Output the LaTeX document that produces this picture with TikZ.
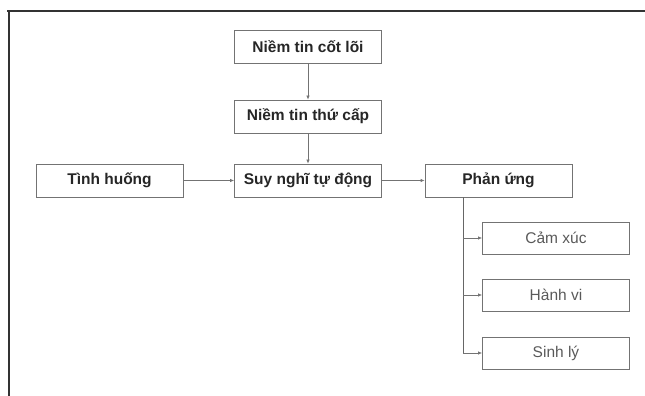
\documentclass[tikz,border=0pt]{standalone}
\usepackage{fontspec}
\setmainfont{Liberation Sans}
\usetikzlibrary{arrows.meta}
\begin{document}
\begin{tikzpicture}[x=1pt,y=1pt,
  box/.style={draw=black!55, line width=0.7pt, minimum width=147pt, minimum height=33pt, inner sep=0pt, font=\bfseries\fontsize{15.5}{17}\selectfont, text=black!85},
  subbox/.style={box, font=\fontsize{15.5}{17}\selectfont, text=black!65, minimum height=32pt},
  conn/.style={draw=black!55, line width=0.7pt, -{Latex[length=4pt,width=3.5pt]}},
  plain/.style={draw=black!60, line width=0.9pt},
  frame/.style={draw=black!80, line width=2pt}]
\useasboundingbox (0,0) rectangle (645,396);
\draw[frame] (7,385) -- (645,385);
\draw[frame] (9,385) -- (9,0);
\node[box] (core) at (308,349.5) {Niềm tin cốt lõi};
\node[box] (sec) at (308,279.5) {Niềm tin thứ cấp};
\node[box] (auto) at (308,215.5) {Suy nghĩ tự động};
\node[box] (sit) at (109.5,215.5) {Tình huống};
\node[box] (resp) at (498.5,215.5) {Phản ứng};
\node[subbox] (emo) at (556,158) {Cảm xúc};
\node[subbox] (beh) at (556,101) {Hành vi};
\node[subbox] (phys) at (556,43) {Sinh lý};
\coordinate (trunk) at (463,0);
\draw[conn] (core) -- (sec);
\draw[conn] (sec) -- (auto);
\draw[conn] (sit) -- (auto);
\draw[conn] (auto) -- (resp);
\draw[plain] (trunk |- resp.south) -- (trunk |- phys.west);
\draw[conn] (trunk |- emo.west) -- (emo.west);
\draw[conn] (trunk |- beh.west) -- (beh.west);
\draw[conn] (trunk |- phys.west) -- (phys.west);
\end{tikzpicture}
\end{document}
